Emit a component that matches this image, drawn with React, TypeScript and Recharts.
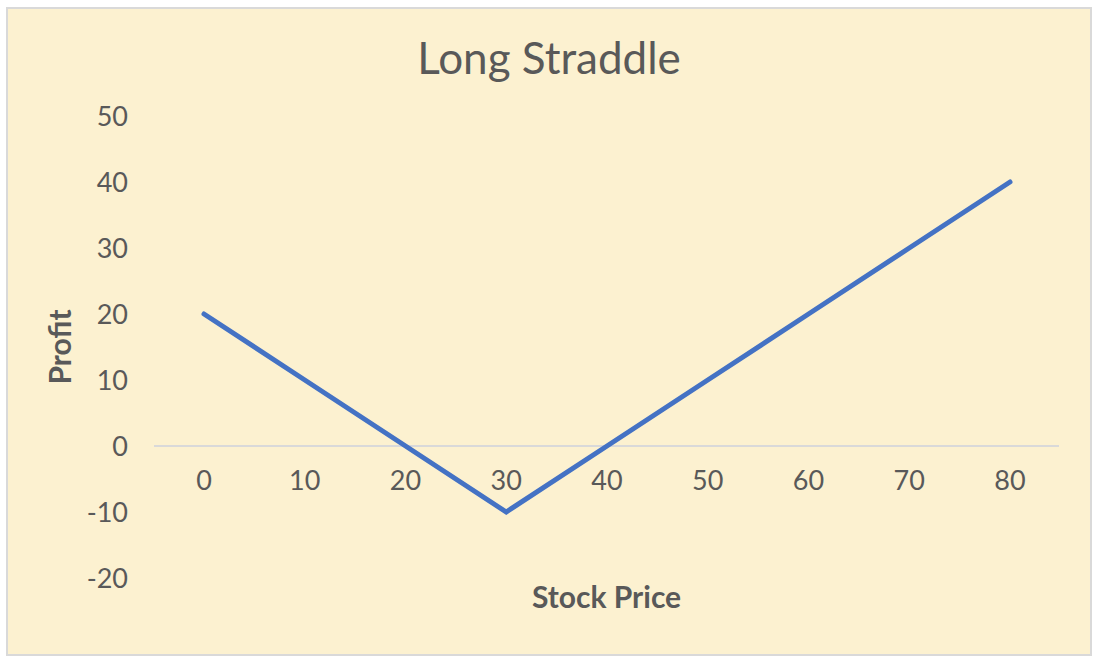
import React from 'react';
import { LineChart, Line, XAxis, YAxis, ReferenceLine, Label } from 'recharts';

// strike 30, combined premium 10
const prices = ['0', '10', '20', '30', '40', '50', '60', '70', '80'];
const profit = [20, 10, 0, -10, 0, 10, 20, 30, 40];
const yTicks = [-20, -10, 0, 10, 20, 30, 40, 50];
const yDomain: [number, number] = [-20, 50];

const CHART_W = 1082;
const CHART_H = 645;
const MARGIN = { top: 107, right: 31, bottom: 26, left: 30 };
const X_AXIS_H = 50;
const PLOT_H = CHART_H - MARGIN.top - MARGIN.bottom - X_AXIS_H;

const TEXT = '#595959';
const FONT = 'Lato, "Open Sans", sans-serif';

const data = prices.map((p, i) => ({ price: p, profit: profit[i] }));

// Excel puts the category labels next to the zero line, not at the bottom
const zeroShift = (PLOT_H * (0 - yDomain[0])) / (yDomain[1] - yDomain[0]);

const ZeroTick: React.FC<any> = ({ x, y, payload }) => (
  <text x={x} y={y - zeroShift} dy={36} textAnchor="middle" fill={TEXT} fontSize={27} fontFamily={FONT}>
    {payload.value}
  </text>
);

export default function App() {
  return (
    <div
      style={{
        position: 'absolute',
        left: 6,
        top: 7,
        width: 1086,
        height: 649,
        boxSizing: 'border-box',
        border: '2px solid #d9d9d9',
        background: '#fcf1d0',
      }}
    >
      <div
        style={{
          position: 'absolute',
          left: 0,
          right: 0,
          top: 22,
          textAlign: 'center',
          fontFamily: FONT,
          fontSize: 44,
          color: TEXT,
        }}
      >
        Long Straddle
      </div>
      <LineChart width={CHART_W} height={CHART_H} data={data} margin={MARGIN}>
        <ReferenceLine y={0} stroke="#d9d9d9" strokeWidth={2} />
        <XAxis
          dataKey="price"
          height={X_AXIS_H}
          axisLine={false}
          tickLine={false}
          padding={{ left: 50, right: 49 }}
          tick={<ZeroTick />}
        >
          <Label
            value="Stock Price"
            position="insideBottom"
            offset={20}
            fill={TEXT}
            fontSize={30}
            fontWeight="bold"
            fontFamily={FONT}
          />
        </XAxis>
        <YAxis
          width={116}
          domain={yDomain}
          ticks={yTicks}
          axisLine={false}
          tickLine={false}
          tickSize={0}
          tickMargin={26}
          tick={{ fill: TEXT, fontSize: 27, fontFamily: FONT }}
        >
          <Label
            value="Profit"
            angle={-90}
            position="insideLeft"
            offset={22}
            style={{ textAnchor: 'middle' }}
            fill={TEXT}
            fontSize={30}
            fontWeight="bold"
            fontFamily={FONT}
          />
        </YAxis>
        <Line
          type="linear"
          dataKey="profit"
          stroke="#4472c4"
          strokeWidth={5}
          strokeLinecap="round"
          dot={false}
          activeDot={false}
          isAnimationActive={false}
        />
      </LineChart>
    </div>
  );
}
